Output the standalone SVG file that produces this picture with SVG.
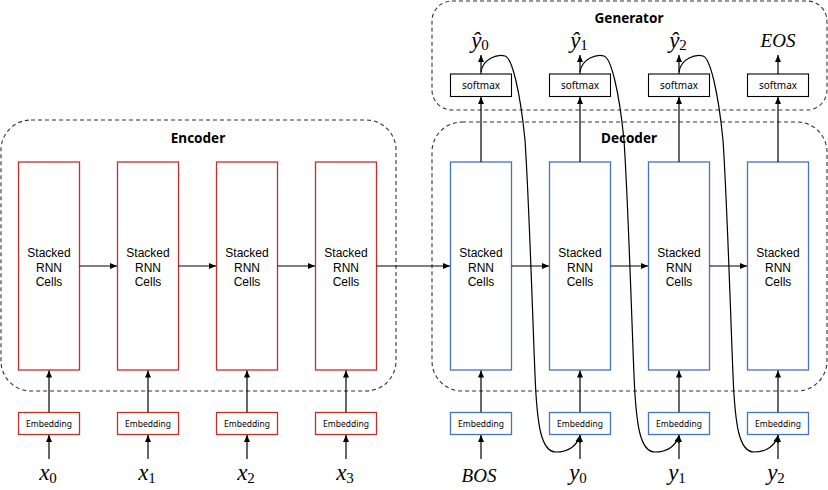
<svg xmlns="http://www.w3.org/2000/svg" width="828" height="490" viewBox="0 0 828 490">
<defs>
<marker id="ah" markerUnits="userSpaceOnUse" markerWidth="8" markerHeight="8" refX="7" refY="3" orient="auto">
<path d="M0,0 L7,3 L0,6 z" fill="#000"/>
</marker>
<style>
.grp{fill:none;stroke:#333;stroke-width:1.1;stroke-dasharray:4,3}
.enc{fill:#fff;stroke:#C0312B;stroke-width:1.3}
.dec{fill:#fff;stroke:#4472C4;stroke-width:1.3}
.sm{fill:#fff;stroke:#000;stroke-width:1.1}
.lbl{font-family:"Liberation Sans",Arial,sans-serif;font-size:12px;fill:#000;text-anchor:middle}
.emb{font-family:"Noto Sans","Open Sans",sans-serif;font-size:8.5px;fill:#000;text-anchor:middle}
.smt{font-family:"Noto Sans","Open Sans",sans-serif;font-size:10px;fill:#000;text-anchor:middle}
.hd{font-family:"Noto Sans","Open Sans",sans-serif;font-size:13.5px;font-weight:bold;fill:#000;text-anchor:middle}
.math{font-family:"Liberation Serif",serif;font-style:italic;font-size:23px;fill:#000;text-anchor:middle}
.word{font-size:19px}
.sub{font-style:normal;font-size:15px}
.c line,.c path{stroke:#000;stroke-width:1.2;fill:none}
</style>
</defs>
<rect width="828" height="490" fill="#fff"/>

<g id="groups">
<rect id="encoder-group" class="grp" x="1" y="120" width="395" height="271" rx="30" ry="30"/>
<rect id="decoder-group" class="grp" x="432" y="122" width="395" height="269" rx="30" ry="30"/>
<rect id="generator-group" class="grp" x="432" y="1" width="395" height="109" rx="20" ry="20"/>
<text class="hd" x="198" y="143">Encoder</text>
<text class="hd" x="629" y="143">Decoder</text>
<text class="hd" x="629" y="23">Generator</text>
</g>

<g id="enc-rnn-0"><rect class="enc" x="18.5" y="162" width="61" height="208"/><text class="lbl" x="49" y="257">Stacked</text><text class="lbl" x="49" y="271.5">RNN</text><text class="lbl" x="49" y="286">Cells</text></g>
<g id="enc-rnn-1"><rect class="enc" x="117.5" y="162" width="61" height="208"/><text class="lbl" x="148" y="257">Stacked</text><text class="lbl" x="148" y="271.5">RNN</text><text class="lbl" x="148" y="286">Cells</text></g>
<g id="enc-rnn-2"><rect class="enc" x="216.5" y="162" width="61" height="208"/><text class="lbl" x="247" y="257">Stacked</text><text class="lbl" x="247" y="271.5">RNN</text><text class="lbl" x="247" y="286">Cells</text></g>
<g id="enc-rnn-3"><rect class="enc" x="315.5" y="162" width="61" height="208"/><text class="lbl" x="346" y="257">Stacked</text><text class="lbl" x="346" y="271.5">RNN</text><text class="lbl" x="346" y="286">Cells</text></g>

<g id="dec-rnn-0"><rect class="dec" x="450.5" y="162" width="61" height="208"/><text class="lbl" x="481" y="257">Stacked</text><text class="lbl" x="481" y="271.5">RNN</text><text class="lbl" x="481" y="286">Cells</text></g>
<g id="dec-rnn-1"><rect class="dec" x="549.5" y="162" width="61" height="208"/><text class="lbl" x="580" y="257">Stacked</text><text class="lbl" x="580" y="271.5">RNN</text><text class="lbl" x="580" y="286">Cells</text></g>
<g id="dec-rnn-2"><rect class="dec" x="648.5" y="162" width="61" height="208"/><text class="lbl" x="679" y="257">Stacked</text><text class="lbl" x="679" y="271.5">RNN</text><text class="lbl" x="679" y="286">Cells</text></g>
<g id="dec-rnn-3"><rect class="dec" x="747.5" y="162" width="61" height="208"/><text class="lbl" x="778" y="257">Stacked</text><text class="lbl" x="778" y="271.5">RNN</text><text class="lbl" x="778" y="286">Cells</text></g>

<g id="enc-emb-0"><rect class="enc" x="18.5" y="412.5" width="61" height="22"/><text class="emb" x="49" y="427">Embedding</text></g>
<g id="enc-emb-1"><rect class="enc" x="117.5" y="412.5" width="61" height="22"/><text class="emb" x="148" y="427">Embedding</text></g>
<g id="enc-emb-2"><rect class="enc" x="216.5" y="412.5" width="61" height="22"/><text class="emb" x="247" y="427">Embedding</text></g>
<g id="enc-emb-3"><rect class="enc" x="315.5" y="412.5" width="61" height="22"/><text class="emb" x="346" y="427">Embedding</text></g>

<g id="dec-emb-0"><rect class="dec" x="450.5" y="412.5" width="61" height="22"/><text class="emb" x="481" y="427">Embedding</text></g>
<g id="dec-emb-1"><rect class="dec" x="549.5" y="412.5" width="61" height="22"/><text class="emb" x="580" y="427">Embedding</text></g>
<g id="dec-emb-2"><rect class="dec" x="648.5" y="412.5" width="61" height="22"/><text class="emb" x="679" y="427">Embedding</text></g>
<g id="dec-emb-3"><rect class="dec" x="747.5" y="412.5" width="61" height="22"/><text class="emb" x="778" y="427">Embedding</text></g>

<g id="softmax-0"><rect class="sm" x="450.5" y="74" width="61" height="22.5"/><text class="smt" x="481" y="89">softmax</text></g>
<g id="softmax-1"><rect class="sm" x="549.5" y="74" width="61" height="22.5"/><text class="smt" x="580" y="89">softmax</text></g>
<g id="softmax-2"><rect class="sm" x="648.5" y="74" width="61" height="22.5"/><text class="smt" x="679" y="89">softmax</text></g>
<g id="softmax-3"><rect class="sm" x="747.5" y="74" width="61" height="22.5"/><text class="smt" x="778" y="89">softmax</text></g>

<g id="inputs">
<text class="math" x="48" y="480">x<tspan class="sub" dy="3">0</tspan></text>
<text class="math" x="147" y="480">x<tspan class="sub" dy="3">1</tspan></text>
<text class="math" x="246" y="480">x<tspan class="sub" dy="3">2</tspan></text>
<text class="math" x="345" y="480">x<tspan class="sub" dy="3">3</tspan></text>
<text class="math word" x="479" y="482">BOS</text>
<text class="math" x="578" y="480">y<tspan class="sub" dy="3">0</tspan></text>
<text class="math" x="677" y="480">y<tspan class="sub" dy="3">1</tspan></text>
<text class="math" x="776" y="480">y<tspan class="sub" dy="3">2</tspan></text>
</g>

<g id="outputs">
<text class="math" x="480" y="48">ŷ<tspan class="sub" dy="2">0</tspan></text>
<text class="math" x="579" y="48">ŷ<tspan class="sub" dy="2">1</tspan></text>
<text class="math" x="678" y="48">ŷ<tspan class="sub" dy="2">2</tspan></text>
<text class="math word" x="778" y="47">EOS</text>
</g>

<g id="connectors" class="c">
<line x1="49" y1="459" x2="49" y2="435" marker-end="url(#ah)"/>
<line x1="148" y1="459" x2="148" y2="435" marker-end="url(#ah)"/>
<line x1="247" y1="459" x2="247" y2="435" marker-end="url(#ah)"/>
<line x1="346" y1="459" x2="346" y2="435" marker-end="url(#ah)"/>
<line x1="481" y1="459" x2="481" y2="435" marker-end="url(#ah)"/>
<line x1="580" y1="459" x2="580" y2="435" marker-end="url(#ah)"/>
<line x1="679" y1="459" x2="679" y2="435" marker-end="url(#ah)"/>
<line x1="778" y1="459" x2="778" y2="435" marker-end="url(#ah)"/>

<line x1="49" y1="412" x2="49" y2="370.5" marker-end="url(#ah)"/>
<line x1="148" y1="412" x2="148" y2="370.5" marker-end="url(#ah)"/>
<line x1="247" y1="412" x2="247" y2="370.5" marker-end="url(#ah)"/>
<line x1="346" y1="412" x2="346" y2="370.5" marker-end="url(#ah)"/>
<line x1="481" y1="412" x2="481" y2="370.5" marker-end="url(#ah)"/>
<line x1="580" y1="412" x2="580" y2="370.5" marker-end="url(#ah)"/>
<line x1="679" y1="412" x2="679" y2="370.5" marker-end="url(#ah)"/>
<line x1="778" y1="412" x2="778" y2="370.5" marker-end="url(#ah)"/>

<line x1="79.5" y1="266" x2="117" y2="266" marker-end="url(#ah)"/>
<line x1="178.5" y1="266" x2="216" y2="266" marker-end="url(#ah)"/>
<line x1="277.5" y1="266" x2="315" y2="266" marker-end="url(#ah)"/>
<line x1="376.5" y1="266" x2="450" y2="266" marker-end="url(#ah)"/>
<line x1="511.5" y1="266" x2="549" y2="266" marker-end="url(#ah)"/>
<line x1="610.5" y1="266" x2="648" y2="266" marker-end="url(#ah)"/>
<line x1="709.5" y1="266" x2="747" y2="266" marker-end="url(#ah)"/>

<line x1="481" y1="162" x2="481" y2="97" marker-end="url(#ah)"/>
<line x1="580" y1="162" x2="580" y2="97" marker-end="url(#ah)"/>
<line x1="679" y1="162" x2="679" y2="97" marker-end="url(#ah)"/>
<line x1="778" y1="162" x2="778" y2="97" marker-end="url(#ah)"/>

<line x1="481" y1="74" x2="481" y2="55" marker-end="url(#ah)"/>
<line x1="580" y1="74" x2="580" y2="55" marker-end="url(#ah)"/>
<line x1="679" y1="74" x2="679" y2="55" marker-end="url(#ah)"/>
<line x1="778" y1="74" x2="778" y2="55" marker-end="url(#ah)"/>

<path d="M481,72 C483,58 498,54 505,56 C512,58 520,90 525,140 C529,200 532,300 535,375 C537,425 541,452 556,452 C568,452 577,446 580,435.5" marker-end="url(#ah)"/>
<path d="M580,72 C582,58 597,54 604,56 C611,58 619,90 624,140 C628,200 631,300 634,375 C636,425 640,452 655,452 C667,452 676,446 679,435.5" marker-end="url(#ah)"/>
<path d="M679,72 C681,58 696,54 703,56 C710,58 718,90 723,140 C727,200 730,300 733,375 C735,425 739,452 754,452 C766,452 775,446 778,435.5" marker-end="url(#ah)"/>
</g>
</svg>
